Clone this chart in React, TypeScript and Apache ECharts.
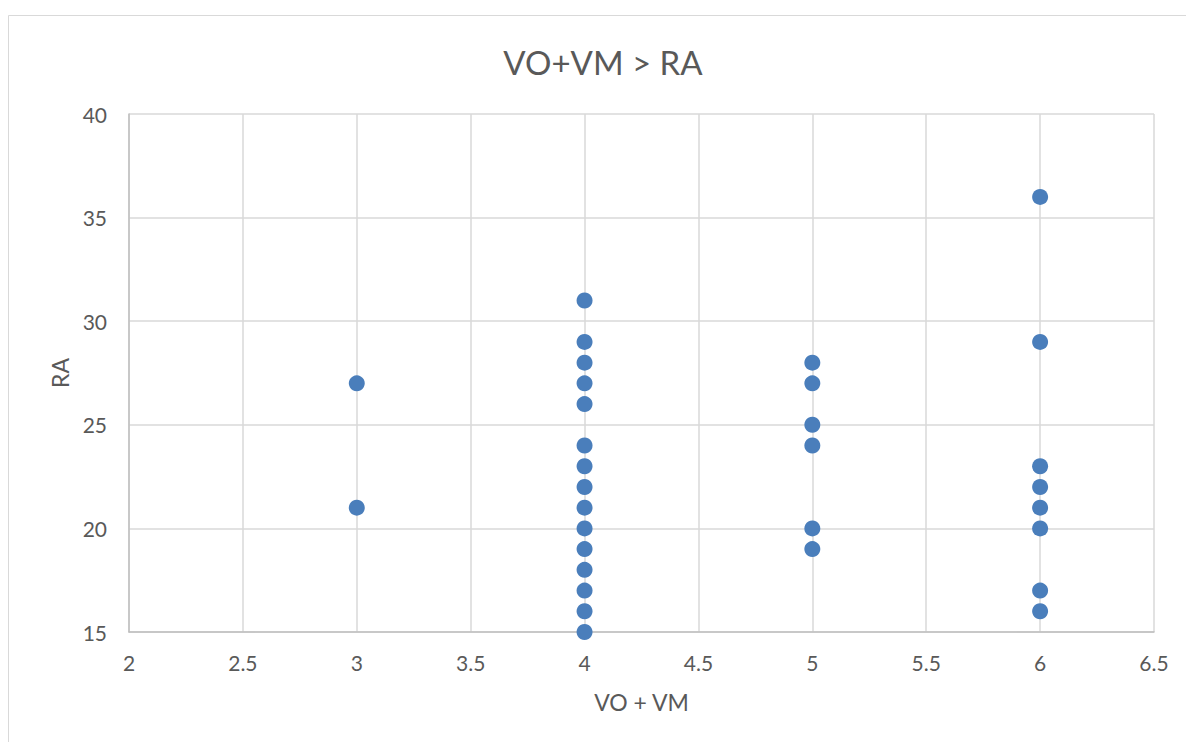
import React, { useEffect, useRef } from "react";
import * as echarts from "echarts";

const TITLE = "VO+VM > RA";
const X_NAME = "VO + VM";
const Y_NAME = "RA";

const xVals: number[] = [
  3, 3,
  4, 4, 4, 4, 4, 4, 4, 4, 4, 4, 4, 4, 4, 4, 4,
  5, 5, 5, 5, 5, 5,
  6, 6, 6, 6, 6, 6, 6, 6,
];
const yVals: number[] = [
  27, 21,
  31, 29, 28, 27, 26, 24, 23, 22, 21, 20, 19, 18, 17, 16, 15,
  28, 27, 25, 24, 20, 19,
  36, 29, 23, 22, 21, 20, 17, 16,
];

const FONT = "Lato, 'Open Sans', sans-serif";
const TXT = "#595959";

export default function App() {
  const ref = useRef<HTMLDivElement>(null);
  useEffect(() => {
    if (!ref.current) return;
    const chart = echarts.init(ref.current, undefined, { renderer: "svg" });
    const data = xVals.map((x, i) => [x, yVals[i]]);
    chart.setOption({
      animation: false,
      backgroundColor: "#ffffff",
      textStyle: { fontFamily: FONT },
      title: {
        text: TITLE,
        left: 598,
        top: 40,
        textAlign: "center",
        textStyle: { fontFamily: FONT, fontSize: 33, fontWeight: "normal", color: TXT },
      },
      graphic: [
        {
          type: "rect",
          shape: { x: 8.5, y: 15.5, width: 1300, height: 900 },
          style: { fill: "none", stroke: "#d9d9d9", lineWidth: 1 },
          silent: true,
        },
      ],
      grid: { left: 129, top: 114, right: 32, bottom: 110, containLabel: false },
      xAxis: {
        type: "value",
        min: 2,
        max: 6.5,
        interval: 0.5,
        name: X_NAME,
        nameLocation: "middle",
        nameGap: 58,
        nameTextStyle: { fontFamily: FONT, fontSize: 23, color: TXT },
        axisLine: { show: true, lineStyle: { color: "#bfbfbf", width: 1.5 } },
        axisTick: { show: false },
        axisLabel: { fontFamily: FONT, fontSize: 21, color: TXT, margin: 20 },
        splitLine: { show: true, lineStyle: { color: "#d9d9d9", width: 1.5 } },
      },
      yAxis: {
        type: "value",
        min: 15,
        max: 40,
        interval: 5,
        name: Y_NAME,
        nameLocation: "middle",
        nameGap: 58,
        nameRotate: 90,
        nameTextStyle: { fontFamily: FONT, fontSize: 23, color: TXT },
        axisLine: { show: true, lineStyle: { color: "#bfbfbf", width: 1.5 } },
        axisTick: { show: false },
        axisLabel: { fontFamily: FONT, fontSize: 21, color: TXT, margin: 22 },
        splitLine: { show: true, lineStyle: { color: "#d9d9d9", width: 1.5 } },
      },
      series: [
        {
          type: "scatter",
          data,
          symbol: "circle",
          symbolSize: 16,
          itemStyle: { color: "#4a7ebb", opacity: 1 },
        },
      ],
    });
    return () => chart.dispose();
  }, []);
  return (
    <div
      ref={ref}
      style={{ position: "fixed", left: 0, top: 0, width: 1186, height: 742 }}
    />
  );
}
